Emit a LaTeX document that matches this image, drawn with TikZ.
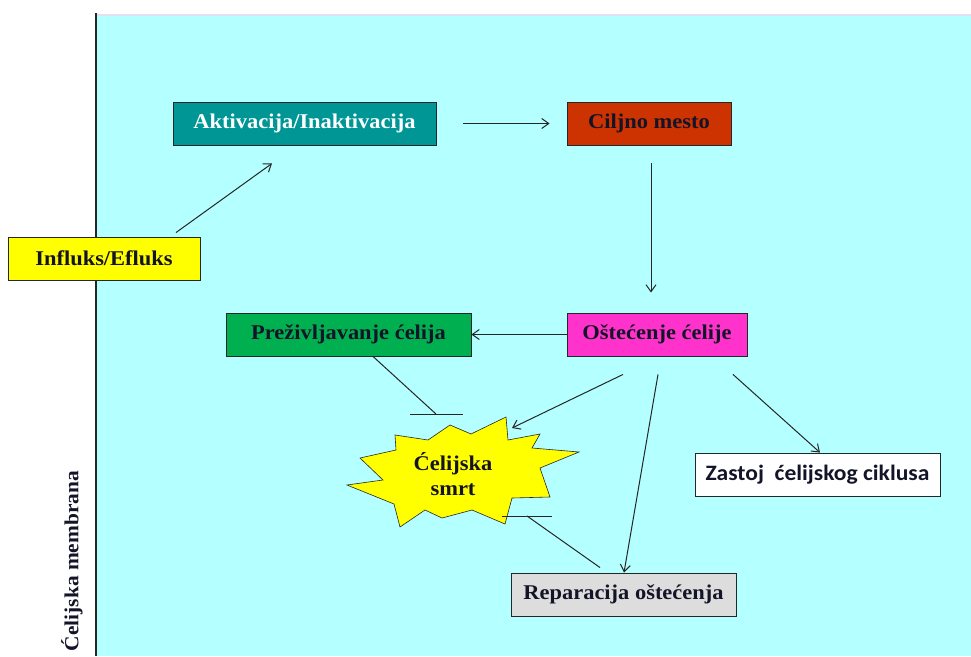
\documentclass[tikz,border=0pt]{standalone}
\usepackage{fontspec}
\setmainfont[FakeStretch=1.07]{Liberation Serif}
\newfontfamily\calib[FakeStretch=1.07]{Carlito}
\usetikzlibrary{arrows.meta,calc}
\definecolor{bgcyan}{RGB}{180,255,255}
\definecolor{tealbox}{RGB}{0,150,150}
\definecolor{redbox}{RGB}{204,51,0}
\definecolor{yelbox}{RGB}{255,255,0}
\definecolor{magbox}{RGB}{255,51,204}
\definecolor{grnbox}{RGB}{0,176,80}
\definecolor{greybox}{RGB}{221,221,221}
\definecolor{topline}{RGB}{225,225,240}
\definecolor{txt}{RGB}{20,20,40}
\tikzset{
  box/.style={draw=black!85, line width=0.9pt, minimum height=43pt, inner sep=0pt,
    font=\fontsize{21}{23}\selectfont\bfseries, text=txt},
  arr/.style={-{Straight Barb[length=7pt,width=10pt]}, line width=1pt, draw=black!85},
  inh/.style={line width=1pt, draw=black!85},
}
\begin{document}
\begin{tikzpicture}[x=1pt,y=-1pt]
\useasboundingbox (0,0) rectangle (971,656);
\fill[bgcyan] (97,15) rectangle (971,656);
\draw[topline, line width=1.5pt] (97,15) -- (971,15);
\draw[black!85, line width=2pt] (96,13) -- (96,656);
\node[rotate=90, font=\fontsize{20}{22}\selectfont\bfseries, text=txt] (memb) at (72,561) {Ćelijska membrana};

\node[box, fill=tealbox, text=white, minimum width=263pt] (akt) at (304.5,123.5) {Aktivacija/Inaktivacija};
\node[box, fill=redbox, minimum width=164pt] (cilj) at (649,123.5) {Ciljno mesto};
\node[box, fill=yelbox, minimum width=192pt] (infl) at (104,258.5) {Influks/Efluks};
\node[box, fill=magbox, minimum width=180pt] (ost) at (657,334.5) {Oštećenje ćelije};
\node[box, fill=grnbox, minimum width=245pt] (prez) at (348.5,334.5) {Preživljavanje\ ćelija};
\node[box, fill=white, minimum width=245pt, font=\calib\fontsize{22}{24}\selectfont\bfseries] (zast) at (817.5,474.5) {Zastoj\ \ ćelijskog ciklusa};
\node[box, fill=greybox, minimum width=225pt] (rep) at (623.5,594.5) {Reparacija oštećenja};

% starburst
\filldraw[fill=yelbox, draw=black!85, line width=0.6pt]
 (506,417) -- (508,440) -- (540,434) -- (532,448) -- (579,452) -- (540,468) --
 (550,497) -- (512,498) -- (505,524) -- (472,510) -- (442,518) -- (425,510) --
 (400,527) -- (394,504) -- (347,485) -- (383,480) -- (360,458) -- (396,450) --
 (395,435) -- (428,440) -- (450,425) -- (471,434) -- cycle;
\node[font=\fontsize{21}{25}\selectfont\bfseries, text=txt, align=center] (smrt) at (453,474) {Ćelijska\\smrt};

% connectors
\draw[arr, shorten <=27pt, shorten >=17pt] (akt.east) -- (cilj.west);
\draw[arr] ([xshift=72pt,yshift=4pt]infl.north) -- ([xshift=-32.5pt,yshift=-18pt]akt.south);
\draw[arr] ([xshift=2pt,yshift=-18pt]cilj.south) -- ([xshift=-6pt,yshift=20pt]ost.north);
\draw[arr] (ost.west) -- (prez.east);
\draw[arr] ([xshift=-34pt,yshift=-18pt]ost.south) -- ([xshift=59pt,yshift=46pt]smrt.center);
\draw[arr] ([xshift=1pt,yshift=-18pt]ost.south) -- ([xshift=0.5pt]rep.north);
\draw[arr] ([xshift=76pt,yshift=-18pt]ost.south) -- ([xshift=2.5pt]zast.north);

% inhibitions
\coordinate (inhA) at (436,414);
\coordinate (inhB) at (527,516);
\draw[inh] ([xshift=24.5pt]prez.south) -- (inhA);
\draw[inh] ([xshift=-26pt]inhA) -- ([xshift=27pt]inhA);
\draw[inh] ([xshift=-23.5pt,yshift=5pt]rep.north) -- (inhB);
\draw[inh] ([xshift=-25pt]inhB) -- ([xshift=25pt]inhB);
\end{tikzpicture}
\end{document}
